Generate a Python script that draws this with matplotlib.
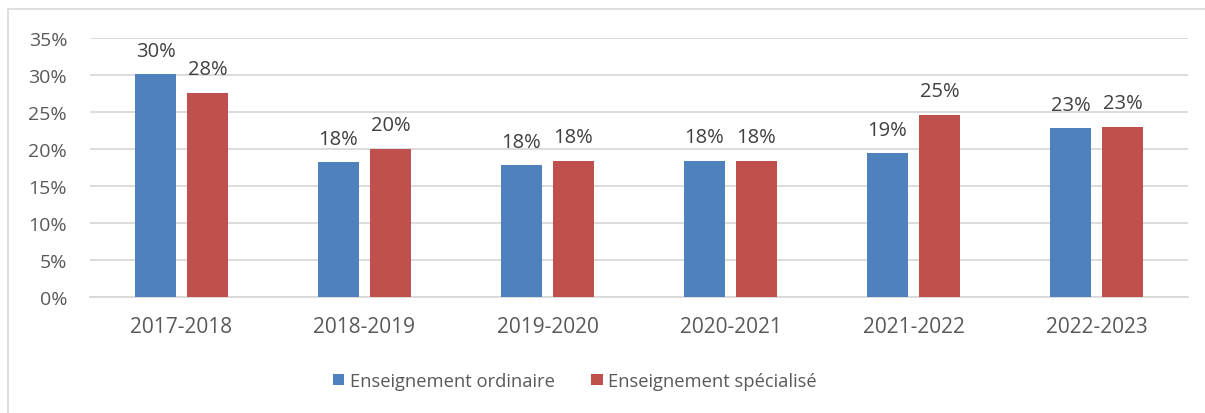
import matplotlib
matplotlib.use("Agg")
import matplotlib.pyplot as plt
from matplotlib.patches import Rectangle
import numpy as np

categories = ["2017-2018", "2018-2019", "2019-2020", "2020-2021", "2021-2022", "2022-2023"]
ordinaire = [30.1, 18.2, 17.8, 18.4, 19.4, 22.8]
specialise = [27.6, 20.0, 18.4, 18.4, 24.6, 23.0]
ordinaire_labels = ["30%", "18%", "18%", "18%", "19%", "23%"]
specialise_labels = ["28%", "20%", "18%", "18%", "25%", "23%"]
yticks = [0, 5, 10, 15, 20, 25, 30, 35]
series_names = ["Enseignement ordinaire", "Enseignement spécialisé"]

plt.rcParams['font.family'] = ['Open Sans', 'DejaVu Sans']

W, H = 1205, 414
fig = plt.figure(figsize=(W / 100, H / 100), dpi=100)
fig.patch.set_facecolor("white")
fig.patches.append(Rectangle((8 / W, -0.1), 1.0, (H - 10) / H + 0.1,
                             transform=fig.transFigure, fill=False,
                             edgecolor="#d9d9d9", linewidth=1.2))

ax = fig.add_axes([90 / W, 116 / H, (1188 - 90) / W, (298 - 39) / H])
x = np.arange(len(categories))
bw = 0.224
off = 0.142
blue = "#4f81bd"
red = "#c0504d"
b1 = ax.bar(x - off, ordinaire, bw, color=blue, label=series_names[0], zorder=3)
b2 = ax.bar(x + off, specialise, bw, color=red, label=series_names[1], zorder=3)

for bars, labels in ((b1, ordinaire_labels), (b2, specialise_labels)):
    for rect, lab in zip(bars, labels):
        ax.annotate(lab, (rect.get_x() + rect.get_width() / 2, rect.get_height()),
                    xytext=(0, 13.5), textcoords="offset points", ha="center",
                    va="baseline", fontsize=14.5, color="#404040")

ax.set_xlim(-0.5, len(categories) - 0.5)
ax.set_ylim(0, 35)
ax.set_yticks(yticks)
ax.set_yticklabels([f"{v}%" for v in yticks])
ax.set_xticks(x)
ax.set_xticklabels(categories)
ax.tick_params(axis="both", length=0, labelcolor="#595959")
ax.tick_params(axis="y", pad=16.5, labelsize=14)
ax.tick_params(axis="x", pad=14, labelsize=15)
ax.grid(axis="y", color="#d9d9d9", linewidth=1.3, zorder=0)
for s in ["left", "right", "top"]:
    ax.spines[s].set_visible(False)
ax.spines["bottom"].set_color("#d9d9d9")
ax.spines["bottom"].set_linewidth(1.3)

fig.legend(handles=[b1, b2], loc="center", bbox_to_anchor=(575 / W, 1 - 382 / H),
           ncol=2, frameon=False, fontsize=13.2, labelcolor="#595959",
           handlelength=0.62, handleheight=0.62, handletextpad=0.3, columnspacing=2.0)

fig.savefig("out.png", dpi=100, facecolor="white")
